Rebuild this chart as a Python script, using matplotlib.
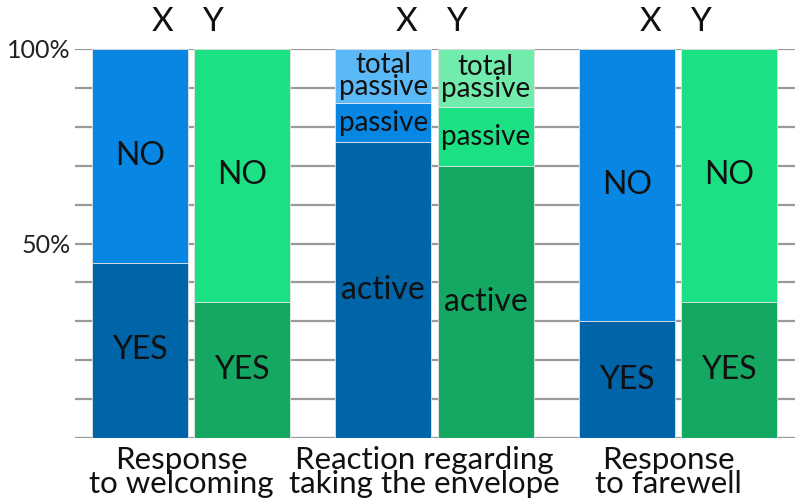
import numpy as np
import matplotlib.pyplot as plt

plt.rcParams['font.family'] = ['Lato', 'DejaVu Sans']

# categories (bottom labels) and series
groups = ['Response\nto welcoming', 'Reaction regarding\ntaking the envelope', 'Response\nto farewell']
series = ['X', 'Y']

# stacked segments per bar, bottom to top: (label, value %, colour key)
x_bars = [
    [('YES', 45, 'dark'), ('NO', 55, 'mid')],
    [('active', 76, 'dark'), ('passive', 10, 'mid'), ('total\npassive', 14, 'light')],
    [('YES', 30, 'dark'), ('NO', 70, 'mid')],
]
y_bars = [
    [('YES', 35, 'dark'), ('NO', 65, 'mid')],
    [('active', 70, 'dark'), ('passive', 15, 'mid'), ('total\npassive', 15, 'light')],
    [('YES', 35, 'dark'), ('NO', 65, 'mid')],
]

colors = {
    'X': {'dark': '#0064a8', 'mid': '#0787e3', 'light': '#5cb9f7'},
    'Y': {'dark': '#14a862', 'mid': '#1ce084', 'light': '#72ecac'},
}

fig = plt.figure(figsize=(7.95, 5.01), dpi=100)
ax = fig.add_axes([75 / 795, 63 / 501, 720 / 795, 389 / 501])

pos = np.arange(len(groups))
offset = 0.21
width = 0.394

for name, bars, sign in [('X', x_bars, -1), ('Y', y_bars, 1)]:
    for i, segs in enumerate(bars):
        xc = pos[i] + sign * offset
        bottom = 0
        for lab, val, key in segs:
            ax.bar(xc, val, width, bottom=bottom, color=colors[name][key],
                   edgecolor='#e4e4e4', linewidth=0.6, zorder=3)
            small = 'passive' in lab
            fs = 20 if small else 23
            ax.text(xc, bottom + val / 2, lab, ha='center', va='center',
                    fontsize=fs, color='#111111', zorder=4, linespacing=0.8)
            bottom += val

# X / Y labels sit close together above each group
for i in pos:
    ax.text(i - 0.115, 103, 'X', ha='center', va='bottom', fontsize=24,
            color='#111111', clip_on=False)
    ax.text(i + 0.09, 103, 'Y', ha='center', va='bottom', fontsize=24,
            color='#111111', clip_on=False)

ax.set_xlim(-0.476, 2.48)
ax.set_ylim(0, 100)

# gridlines every 10 %
for yv in range(0, 101, 10):
    ax.axhline(yv, color='#9a9a9a', linewidth=1.6, zorder=1)

ax.set_yticks([50, 100])
ax.set_yticklabels(['50%', '100%'], fontsize=18, color='#222222')
ax.tick_params(axis='y', length=0, pad=3)
ax.set_xticks([])
for s in ax.spines.values():
    s.set_visible(False)

for i, g in enumerate(groups):
    ax.text(pos[i] - 0.04, -2, g, ha='center', va='top', fontsize=22.5,
            color='#111111', linespacing=0.85, clip_on=False)

fig.savefig('out.png', dpi=100)
